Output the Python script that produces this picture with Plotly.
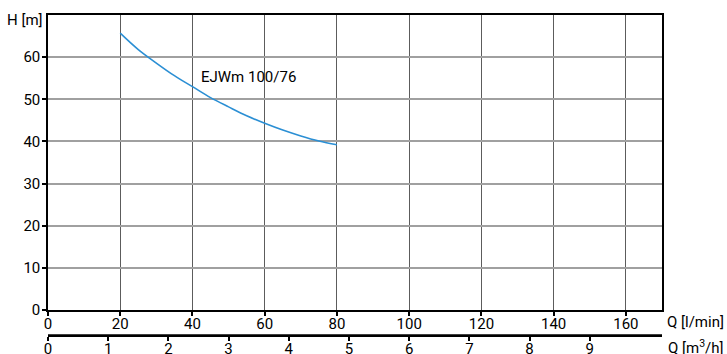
import plotly.graph_objects as go

# Data
q_lmin = [20, 25, 30, 35, 40, 45, 50, 55, 60, 65, 70, 75, 80]
h_m = [65.7, 61.8, 58.6, 55.6, 53.0, 50.4, 48.2, 46.1, 44.3, 42.7, 41.3, 40.1, 39.2]
curve_name = "EJWm 100/76"

x_ticks = [0, 20, 40, 60, 80, 100, 120, 140, 160]
y_ticks = [0, 10, 20, 30, 40, 50, 60]
m3h_ticks = [0, 1, 2, 3, 4, 5, 6, 7, 8, 9]

X_MAX = 170
Y_MAX = 70
LMIN_PER_M3H = 1000 / 60

TICK_FONT = dict(family="Roboto, sans-serif", size=15, color="black")
TEXT_FONT = dict(family="Roboto, sans-serif", size=15, color="black")

fig = go.Figure()
fig.add_trace(go.Scatter(
    x=q_lmin, y=h_m, mode="lines",
    line=dict(color="#2b8fd4", width=1.6, shape="spline", smoothing=1.0),
    showlegend=False, hoverinfo="skip",
))
# invisible trace for the secondary m3/h axis (own thin subplot at the bottom)
fig.add_trace(go.Scatter(
    x=[0, X_MAX / LMIN_PER_M3H], y=[0, 0], xaxis="x2", yaxis="y2",
    mode="markers", marker=dict(opacity=0), showlegend=False, hoverinfo="skip",
))

axis_common = dict(
    showline=True, linecolor="black", linewidth=1.5,
    ticks="outside", ticklen=4, tickcolor="black", tickwidth=1.5,
    tickfont=TICK_FONT, zeroline=False, automargin=False,
)

fig.update_layout(
    width=727, height=354,
    margin=dict(l=48, r=65, t=15, b=19, autoexpand=False),
    paper_bgcolor="white", plot_bgcolor="rgba(0,0,0,0)",
    font=TEXT_FONT,
    xaxis=dict(
        range=[0, X_MAX], tickvals=x_ticks, ticktext=[str(v) for v in x_ticks],
        showgrid=True, gridcolor="#5c5c5c", gridwidth=1, mirror=True,
        anchor="y", ticklabelstandoff=-5, **axis_common,
    ),
    yaxis=dict(
        range=[0, Y_MAX], tickvals=y_ticks, ticktext=[str(v) for v in y_ticks],
        showgrid=True, gridcolor="#a0a0a0", gridwidth=1.5, mirror=True,
        domain=[0.078, 1], ticklabelstandoff=-1, **axis_common,
    ),
    xaxis2=dict(
        range=[0, X_MAX / LMIN_PER_M3H], tickvals=m3h_ticks,
        ticktext=[str(v) for v in m3h_ticks],
        anchor="y2", side="bottom", domain=[0, 1],
        showgrid=False, ticklabelstandoff=-5, **axis_common,
    ),
    yaxis2=dict(
        domain=[0, 0.01], range=[0, 1], showgrid=False, showline=False,
        showticklabels=False, ticks="", zeroline=False, anchor="x2",
    ),
)

# explicit axis line for the m3/h scale (drawn in paper coordinates)
fig.add_shape(type="line", xref="paper", yref="paper", x0=0, x1=1, y0=0, y1=0,
              line=dict(color="black", width=1.5), layer="above")

fig.add_annotation(
    x=41.8, y=55.4, xref="x", yref="y", text=curve_name, showarrow=False,
    xanchor="left", yanchor="middle", font=TEXT_FONT,
)
fig.add_annotation(
    x=-4 / 614, y=0.984, xref="paper", yref="paper", text="H [m]", showarrow=False,
    xanchor="right", yanchor="middle", font=TEXT_FONT, borderpad=0,
)
fig.add_annotation(
    x=1 + 63 / 614, y=0.0406, xref="paper", yref="paper", text="Q [l/min]",
    showarrow=False, xanchor="right", yanchor="middle", font=TEXT_FONT, borderpad=0,
)
fig.add_annotation(
    x=1 + 63 / 614, y=-0.0375, xref="paper", yref="paper", text="Q [m<sup>3</sup>/h]",
    showarrow=False, xanchor="right", yanchor="middle", font=TEXT_FONT, borderpad=0,
)

fig.write_html(
    "out.html",
    config={"displayModeBar": False},
    post_script="document.body.style.margin='0';document.body.style.overflow='hidden';",
)
